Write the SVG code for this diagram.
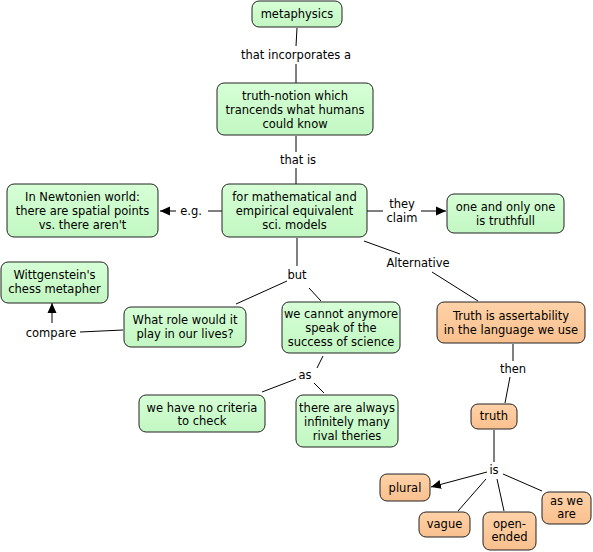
<svg xmlns="http://www.w3.org/2000/svg" width="593" height="552" viewBox="0 0 593 552">
<defs>
<marker id="arr" viewBox="0 0 10 10" refX="10" refY="5" markerWidth="10" markerHeight="10" markerUnits="userSpaceOnUse" orient="auto">
<path d="M0,0.5 L10,5 L0,9.5 z" fill="#000"/>
</marker>
<linearGradient id="gg" x1="0" y1="0" x2="0" y2="1"><stop offset="0" stop-color="#d6ffd6"/><stop offset="1" stop-color="#c2f7c2"/></linearGradient>
<linearGradient id="og" x1="0" y1="0" x2="0" y2="1"><stop offset="0" stop-color="#ffd2a8"/><stop offset="1" stop-color="#f9c08e"/></linearGradient>
</defs>
<style>
text{font-family:"DejaVu Sans","Liberation Sans",sans-serif;font-size:11.5px;fill:#000;text-anchor:middle;dominant-baseline:central}
.g rect{fill:url(#gg);stroke:#222;stroke-width:1}
.o rect{fill:url(#og);stroke:#222;stroke-width:1}
#connectors line{stroke:#000;stroke-width:1;fill:none}
.a{marker-end:url(#arr)}
</style>
<g id="connectors">
<line x1="297" y1="28" x2="296" y2="46"/>
<line x1="296" y1="64" x2="296" y2="83"/>
<line x1="296" y1="136" x2="296" y2="152"/>
<line x1="296" y1="168" x2="296" y2="184"/>
<line x1="222" y1="211" x2="208" y2="211"/>
<line class="a" x1="176" y1="211" x2="160" y2="211"/>
<line x1="367" y1="211" x2="383" y2="211"/>
<line class="a" x1="421" y1="211" x2="446" y2="211"/>
<line x1="364" y1="241" x2="400" y2="254"/>
<line x1="432" y1="272" x2="478" y2="301"/>
<line x1="513" y1="344" x2="513" y2="361"/>
<line x1="510" y1="377" x2="505" y2="403"/>
<line x1="494" y1="430" x2="494" y2="462"/>
<line class="a" x1="487" y1="472" x2="431" y2="487"/>
<line x1="486" y1="479" x2="458" y2="511"/>
<line x1="497" y1="479" x2="504" y2="511"/>
<line x1="503" y1="474" x2="542" y2="491"/>
<line x1="297" y1="238" x2="297" y2="266"/>
<line x1="287" y1="281" x2="236" y2="304"/>
<line x1="309" y1="288" x2="321" y2="301"/>
<line x1="123" y1="330" x2="80" y2="332"/>
<line class="a" x1="52" y1="323" x2="52" y2="303"/>
<line x1="323" y1="356" x2="317" y2="368"/>
<line x1="296" y1="379" x2="262" y2="392"/>
<line x1="314" y1="383" x2="324" y2="393"/>
</g>
<g id="labels">
<text x="296" y="55">that incorporates a</text>
<text x="298" y="160">that is</text>
<text x="191" y="211">e.g.</text>
<text x="402" y="204">they</text>
<text x="402" y="218">claim</text>
<text x="418" y="263">Alternative</text>
<text x="297" y="275">but</text>
<text x="51" y="333">compare</text>
<text x="305" y="375">as</text>
<text x="513" y="369">then</text>
<text x="494" y="470">is</text>
</g>
<g id="n-metaphysics" class="g"><rect x="252" y="1" width="90" height="26" rx="7"/><text x="297" y="14">metaphysics</text></g>
<g id="n-truthnotion" class="g"><rect x="217" y="83" width="156" height="52" rx="7"/><text x="295" y="96">truth-notion which</text><text x="295" y="110">trancends what humans</text><text x="295" y="124">could know</text></g>
<g id="n-formath" class="g"><rect x="222" y="184" width="145" height="53" rx="7"/><text x="294.5" y="197">for mathematical and</text><text x="294.5" y="211">empirical equivalent</text><text x="294.5" y="225">sci. models</text></g>
<g id="n-newton" class="g"><rect x="7" y="184" width="151" height="53" rx="7"/><text x="82.5" y="197">In Newtonien world:</text><text x="82.5" y="211">there are spatial points</text><text x="82.5" y="225">vs. there aren't</text></g>
<g id="n-oneonly" class="g"><rect x="447" y="194" width="117" height="39" rx="7"/><text x="505.5" y="207">one and only one</text><text x="505.5" y="221">is truthfull</text></g>
<g id="n-witt" class="g"><rect x="1" y="262" width="107" height="41" rx="7"/><text x="54.5" y="275">Wittgenstein's</text><text x="54.5" y="289">chess metapher</text></g>
<g id="n-whatrole" class="g"><rect x="124" y="307" width="122" height="40" rx="7"/><text x="185" y="320">What role would it</text><text x="185" y="334">play in our lives?</text></g>
<g id="n-wecannot" class="g"><rect x="282" y="302" width="118" height="51" rx="7"/><text x="341" y="314">we cannot anymore</text><text x="341" y="328">speak of the</text><text x="341" y="342">success of science</text></g>
<g id="n-truthassert" class="o"><rect x="437" y="302" width="148" height="41" rx="7"/><text x="511" y="316">Truth is assertability</text><text x="511" y="330">in the language we use</text></g>
<g id="n-nocriteria" class="g"><rect x="139" y="395" width="126" height="37" rx="7"/><text x="202" y="408">we have no criteria</text><text x="202" y="421">to check</text></g>
<g id="n-always" class="g"><rect x="296" y="395" width="102" height="52" rx="7"/><text x="347" y="408">there are always</text><text x="347" y="422">infinitely many</text><text x="347" y="436">rival theries</text></g>
<g id="n-truth" class="o"><rect x="471" y="404" width="46" height="25" rx="7"/><text x="494" y="416">truth</text></g>
<g id="n-plural" class="o"><rect x="380" y="474" width="50" height="27" rx="7"/><text x="405" y="488">plural</text></g>
<g id="n-vague" class="o"><rect x="419" y="512" width="51" height="25" rx="7"/><text x="444.5" y="524">vague</text></g>
<g id="n-openended" class="o"><rect x="483" y="512" width="53" height="38" rx="7"/><text x="509.5" y="524">open-</text><text x="509.5" y="537">ended</text></g>
<g id="n-aswe" class="o"><rect x="542" y="492" width="49" height="32" rx="7"/><text x="566.5" y="501">as we</text><text x="566.5" y="514">are</text></g>
</svg>
